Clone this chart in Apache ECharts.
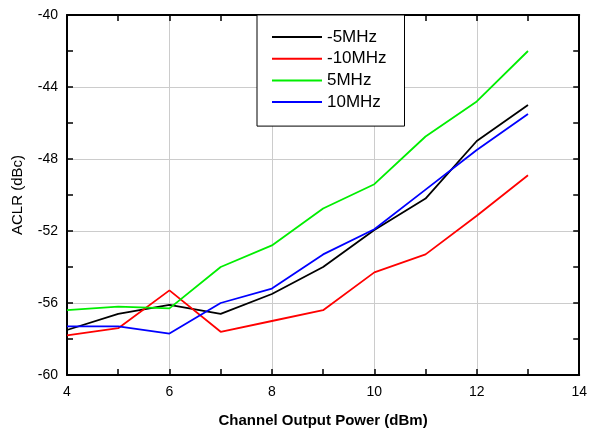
<!DOCTYPE html>
<html>
<head>
<meta charset="utf-8">
<script src="https://cdn.jsdelivr.net/npm/echarts@6/dist/echarts.min.js"></script>
<style>html,body{margin:0;padding:0;background:#fff}#c{width:590px;height:433px}</style>
</head>
<body>
<div id="c"></div>
<script>
var power = [4, 5, 6, 7, 8, 9, 10, 11, 12, 13];
var m5MHz  = [-57.5, -56.6, -56.1, -56.6, -55.5, -54.0, -51.95, -50.2, -47.0, -45.0];
var m10MHz = [-57.8, -57.4, -55.3, -57.6, -57.0, -56.4, -54.3, -53.3, -51.15, -48.9];
var p5MHz  = [-56.4, -56.2, -56.3, -54.0, -52.8, -50.75, -49.4, -46.75, -44.8, -42.0];
var p10MHz = [-57.3, -57.3, -57.7, -56.0, -55.2, -53.3, -51.9, -49.7, -47.5, -45.5];
var names = ['-5MHz', '-10MHz', '5MHz', '10MHz'];
var colors = ['#000000', '#ff0000', '#00ee00', '#0000ff'];
var xTicks = {min: 4, max: 14, interval: 2};
var yTicks = {min: -60, max: -40, interval: 4};

function pairs(ys) { return power.map(function (x, i) { return [x, ys[i]]; }); }
var all = [m5MHz, m10MHz, p5MHz, p10MHz];

var font = 'Arial, "Liberation Sans", sans-serif';
function xAx(pos, labels) {
  return {
    type: 'value', position: pos, min: xTicks.min, max: xTicks.max, interval: xTicks.interval,
    axisLine: {show: true, onZero: false, lineStyle: {color: '#000', width: 2}},
    axisTick: {show: true, inside: true, length: 6, lineStyle: {color: '#000', width: 1.5}},
    minorTick: {show: true, splitNumber: 2, length: 6, lineStyle: {color: '#000', width: 1.5}},
    splitLine: {show: labels, lineStyle: {color: '#cccccc', width: 1}},
    axisLabel: {show: labels, color: '#000', fontSize: 14, fontFamily: font, margin: 10},
    name: labels ? 'Channel Output Power (dBm)' : '',
    nameLocation: 'middle', nameGap: 38,
    nameTextStyle: {color: '#000', fontSize: 15, fontWeight: 'bold', fontFamily: font}
  };
}
function yAx(pos, labels) {
  return {
    type: 'value', position: pos, min: yTicks.min, max: yTicks.max, interval: yTicks.interval,
    axisLine: {show: true, onZero: false, lineStyle: {color: '#000', width: 2}},
    axisTick: {show: true, inside: true, length: 6, lineStyle: {color: '#000', width: 1.5}},
    minorTick: {show: true, splitNumber: 2, length: 6, lineStyle: {color: '#000', width: 1.5}},
    splitLine: {show: labels, lineStyle: {color: '#cccccc', width: 1}},
    axisLabel: {show: labels, color: '#000', fontSize: 14, fontFamily: font, margin: 9},
    name: labels ? 'ACLR (dBc)' : '',
    nameLocation: 'middle', nameGap: 42,
    nameTextStyle: {color: '#000', fontSize: 15, fontFamily: font}
  };
}

var chart = echarts.init(document.getElementById('c'), null, {renderer: 'canvas'});
chart.setOption({
  animation: false,
  backgroundColor: '#fff',
  grid: {left: 67, right: 10, top: 15, bottom: 51, containLabel: false},
  xAxis: [xAx('bottom', true), xAx('top', false)],
  yAxis: [yAx('left', true), yAx('right', false)],
  legend: {
    orient: 'vertical', left: 257, top: 15,
    data: names.map(function (n) { return {name: n, icon: 'path://M0,0H50V2H0Z'}; }),
    itemWidth: 50, itemHeight: 2, itemGap: 4.7, itemTextGap: 4,
    padding: [13.5, 18, 15.5, 15],
    borderColor: '#000', borderWidth: 1, backgroundColor: '#fff',
    textStyle: {color: '#000', fontSize: 17, lineHeight: 17, fontFamily: font}
  },
  series: all.map(function (ys, i) {
    return {
      name: names[i], type: 'line', data: pairs(ys),
      xAxisIndex: 0, yAxisIndex: 0,
      symbol: 'none', showSymbol: false,
      lineStyle: {color: colors[i], width: 1.8},
      itemStyle: {color: colors[i]}
    };
  })
});
</script>
</body>
</html>
